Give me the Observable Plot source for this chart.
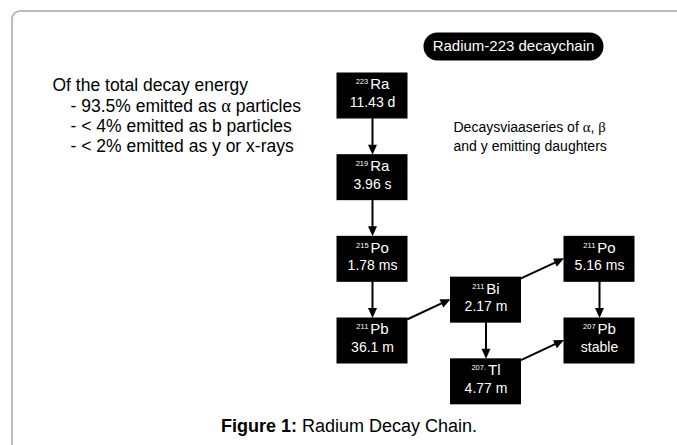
<!DOCTYPE html>
<html><head><meta charset="utf-8">
<script src="https://cdn.jsdelivr.net/npm/d3@7"></script>
<script src="https://cdn.jsdelivr.net/npm/@observablehq/plot@0.6"></script>
<style>
html,body{margin:0;padding:0;background:#fff;overflow:hidden;}
svg{overflow:hidden;}
text{white-space:pre;}
</style></head><body><div id="chart"></div>
<script>
// ---- data ----
const isotopes    = ["Ra", "Ra", "Po", "Pb", "Bi", "Tl", "Po", "Pb"];
const massNumbers = ["223", "219", "215", "211", "211", "207.", "211", "207"];
const halfLives   = ["11.43 d", "3.96 s", "1.78 ms", "36.1 m", "2.17 m", "4.77 m", "5.16 ms", "stable"];
const columns     = [0, 0, 0, 0, 1, 1, 2, 2];
const levels      = [0, 1, 2, 3, 2.5, 3.5, 2, 3];
const decayFrom   = [0, 1, 2, 3, 4, 4, 6, 5];
const decayTo     = [1, 2, 3, 4, 6, 5, 7, 7];
const energyHeading = "Of the total decay energy";
const energyShares  = ["- 93.5% emitted as \u03b1 particles", "- < 4% emitted as b particles", "- < 2% emitted as y or x-rays"];
const chainTitle    = "Radium-223 decaychain";
const seriesNote    = ["Decaysviaaseries of \u03b1, \u03b2", "and y emitting daughters"];
const captionBold   = "Figure 1:";
const captionText   = " Radium Decay Chain.";

// ---- layout ----
const W = 677, H = 445;
const xRange = [372, 599], yRange = [95.5, 340.5];
const kx = (xRange[1] - xRange[0]) / 2, ky = (yRange[1] - yRange[0]) / 3;
const BOX_W = 71, BOX_H = 46;
const hw = BOX_W / 2 / kx, hh = BOX_H / 2 / ky;

const nodes = isotopes.map((s, i) => ({symbol: s, mass: massNumbers[i], half: halfLives[i], col: columns[i], level: levels[i]}));
const edges = decayFrom.map((f, i) => {
  const a = nodes[f], b = nodes[decayTo[i]];
  let e;
  if (a.col === b.col) e = {x1: a.col, y1: a.level + hh, x2: b.col, y2: b.level - hh};
  else e = {x1: a.col + hw, y1: a.level - hh + 1 / ky, x2: b.col - hw, y2: b.level - 1 / ky};
  e.angle = Math.atan2((e.x2 - e.x1) * kx, -(e.y2 - e.y1) * ky) * 180 / Math.PI;
  return e;
});
const arrowHead = {draw(ctx) { ctx.moveTo(0, 0); ctx.lineTo(4.5, 10); ctx.lineTo(-4.5, 10); ctx.closePath(); }};
const FONT = "'Liberation Sans', Arial, Helvetica, sans-serif";
const SUP = "\u2016";   // separator for superscript mass numbers
const BOLD = "\u00a6";  // separator for the bold caption lead

const chart = Plot.plot({
  width: W, height: H, margin: 0,
  x: {domain: [0, 2], range: xRange, axis: null},
  y: {domain: [0, 3], range: yRange, axis: null},
  style: {fontFamily: FONT, background: "white", overflow: "hidden"},
  marks: [
    Plot.frame({stroke: "#a8a8a8", strokeWidth: 1.5, rx: 8, insetLeft: 11.5, insetTop: 10.5, insetRight: -30, insetBottom: -30}),
    Plot.frame({fill: "black", stroke: "none", rx: 14, insetLeft: 423, insetRight: W - 603, insetTop: 32, insetBottom: H - 60}),
    Plot.text([chainTitle], {text: d => d, frameAnchor: "top-left", textAnchor: "middle", lineAnchor: "middle", dx: 513, dy: 46, fill: "white", fontSize: 15}),
    Plot.text([energyHeading], {text: d => d, frameAnchor: "top-left", textAnchor: "start", lineAnchor: "top", dx: 52, dy: 77.6, fontSize: 17.5, fill: "black"}),
    Plot.text([energyShares.join("\n")], {text: d => d, frameAnchor: "top-left", textAnchor: "start", lineAnchor: "top", dx: 70, dy: 97.6, fontSize: 17.5, lineHeight: 20 / 17.5, fill: "black"}),
    Plot.text([seriesNote.join("\n")], {text: d => d, frameAnchor: "top-left", textAnchor: "start", lineAnchor: "top", dx: 453, dy: 118.1, fontSize: 14, lineHeight: 19 / 14, fill: "black"}),
    Plot.arrow(edges, {x1: "x1", y1: "y1", x2: "x2", y2: "y2", headLength: 0, insetEnd: 7, stroke: "black", strokeWidth: 2}),
    Plot.dot(edges, {x: "x2", y: "y2", symbol: arrowHead, rotate: "angle", fill: "black", stroke: "none", r: 5}),
    Plot.rect(nodes, {x1: d => d.col - hw, x2: d => d.col + hw, y1: d => d.level - hh, y2: d => d.level + hh, fill: "black"}),
    Plot.text(nodes, {x: "col", y: "level", text: d => d.mass + SUP + d.symbol, fill: "white", fontSize: 14, dy: -11}),
    Plot.text(nodes, {x: "col", y: "level", text: "half", fill: "white", fontSize: 14, dy: 6.5}),
    Plot.text([captionBold + BOLD + captionText], {text: d => d, frameAnchor: "top-left", textAnchor: "middle", lineAnchor: "middle", dx: 348.5, dy: 426.2, fontSize: 18, fill: "black"})
  ]
});
document.getElementById("chart").append(chart);

const NS = "http://www.w3.org/2000/svg";
const root = chart.querySelector ? chart : document;
const tspan = (txt, attrs) => {
  const el = document.createElementNS(NS, "tspan");
  for (const k in attrs) el.setAttribute(k, attrs[k]);
  el.textContent = txt;
  return el;
};
document.querySelectorAll("#chart text").forEach(t => {
  const s = t.textContent;
  if (s.includes(SUP)) {
    const [m, sym] = s.split(SUP);
    t.textContent = "";
    t.append(tspan(m, {"font-size": 7.5, dy: -5}), tspan(sym, {"font-size": 15, dy: 5, dx: 2}));
  } else if (s.includes(BOLD)) {
    const [m, rest] = s.split(BOLD);
    t.textContent = "";
    t.append(tspan(m, {"font-weight": "bold"}), tspan(rest, {}));
  }
});
// Greek letters in a serif face, as in the original figure
document.querySelectorAll("#chart text, #chart tspan").forEach(el => {
  if (el.children.length || !/[\u03b1\u03b2]/.test(el.textContent)) return;
  const parts = el.textContent.split(/([\u03b1\u03b2])/);
  el.textContent = "";
  for (const p of parts) {
    if (!p) continue;
    if (/[\u03b1\u03b2]/.test(p)) el.append(tspan(p, {"font-family": "'Liberation Serif', 'Times New Roman', serif", "font-size": "1.05em"}));
    else el.append(document.createTextNode(p));
  }
});
</script></body></html>
